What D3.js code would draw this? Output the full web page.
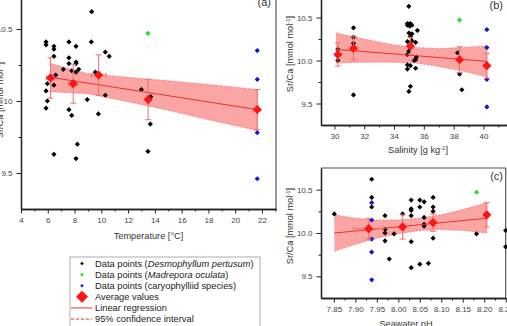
<!doctype html>
<html>
<head>
<meta charset="utf8">
<script src="https://d3js.org/d3.v7.min.js"></script>
<style>
  body { margin: 0; background: #fff; }
  svg { display: block; font-family: "Liberation Sans", Arial, sans-serif; }
</style>
</head>
<body>
<svg width="507" height="326"></svg>
<script>
// values
var srDomain = [9.25, 10.75];
var srTicks = [9.5, 10, 10.5];
var srMinor = [9.75, 10.25];

// (a) temperature
var tempTicks = [4, 6, 8, 10, 12, 14, 16, 18, 20, 22];
var tempPertusum = [[5.87,10.41],[5.87,10.39],[6.46,10.38],[6.46,10.36],[6.46,10.31],[7.58,10.41],
  [8.11,10.38],[7.58,10.30],[7.58,10.26],[8.11,10.27],[8.11,10.26],[7.16,10.22],[7.79,10.21],
  [8.11,10.20],[8.31,10.22],[6.59,10.18],[5.97,10.12],[6.46,10.11],[5.87,10.07],[5.97,10.00],
  [5.87,9.95],[7.58,9.94],[7.79,9.90],[8.95,10.01],[8.21,9.70],[6.46,9.63],[8.11,9.60],
  [9.28,10.62],[9.25,10.41],[9.55,10.20],[10.30,10.34],[10.59,10.31],[10.30,10.04],[9.78,9.91],
  [12.99,10.08],[13.69,10.03],[13.66,9.84],[13.48,9.65]];
var tempOculata = [[13.48,10.47]];
var tempCaryo = [[21.65,10.35],[21.65,10.15],[21.65,9.78],[21.65,9.46]];
var tempMeans = [[6.2,10.16],[7.9,10.12],[9.8,10.18],[13.5,10.01],[21.65,9.94]];
var tempErrY = [0.14, 0.135, 0.14, 0.14, 0.14];
var tempErrX = [0.3, 0.35, 0.55, 0.1, 0];
var tempFit = [[6.2,10.165],[21.65,9.94]];
var tempBandX = [6.2, 9, 12, 15, 18, 21.65];
var tempBandHi = [10.26, 10.19, 10.165, 10.14, 10.115, 10.08];
var tempBandLo = [10.065, 10.05, 9.995, 9.935, 9.87, 9.795];

// (b) salinity
var salTicks = [30, 32, 34, 36, 38, 40, 42];
var salPertusum = [[30.23,10.13],[30.23,10.00],[31.28,10.38],[31.28,10.27],[31.28,10.20],[31.28,9.60],
  [34.99,10.63],[34.9,10.43],[35.0,10.42],[35.1,10.43],[35.2,10.41],[35.05,10.40],[34.9,10.41],
  [35.57,10.35],[35.0,10.32],[35.2,10.31],[35.1,10.28],[34.9,10.22],[35.45,10.21],[35.2,10.23],
  [35.1,10.15],[35.0,10.11],[34.9,10.07],[35.5,10.04],[35.45,10.01],[35.35,10.00],[34.9,9.95],
  [35.1,9.94],[35.45,9.91],[34.9,9.90],[35.1,9.70],[35.0,9.64],[38.26,10.09],[38.4,9.84],[38.55,9.66]];
var salOculata = [[38.4,10.47]];
var salCaryo = [[40.23,10.36],[40.23,10.15],[40.23,9.78],[40.23,9.46]];
var salMeans = [[30.23,10.07],[31.28,10.14],[35.1,10.17],[38.4,10.01],[40.23,9.94]];
var salErrY = [0.135, 0.135, 0.1, 0.15, 0.145];
var salErrX = [0, 0, 0, 0, 0];
var salFit = [[30.1,10.13],[40.23,9.99]];
var salBandX = [30.1, 32, 34, 35.5, 37, 38.5, 40.23];
var salBandHi = [10.32, 10.25, 10.18, 10.15, 10.14, 10.15, 10.17];
var salBandLo = [9.97, 9.98, 9.98, 9.97, 9.93, 9.88, 9.81];

// (c) seawater pH
var phTicks = [7.85, 7.90, 7.95, 8.00, 8.05, 8.10, 8.15, 8.20, 8.25];
var phPertusum = [[7.851,10.22],[7.938,10.62],[7.938,10.41],[7.938,10.30],[7.969,10.20],[7.969,10.04],
  [7.969,10.00],[7.969,9.91],[7.99,9.99],[7.979,9.70],[8.01,10.22],[8.03,10.38],[8.03,10.28],
  [8.03,10.26],[8.03,10.20],[8.03,9.90],[8.03,9.60],[8.05,10.38],[8.05,10.30],[8.06,10.36],
  [8.06,10.18],[8.06,10.10],[8.06,10.08],[8.05,9.64],[8.07,9.65],[8.081,10.41],[8.081,10.30],
  [8.081,10.25],[8.081,9.94],[8.182,9.99],[8.25,10.03],[8.25,9.84]];
var phOculata = [[8.182,10.47]];
var phCaryo = [[7.938,10.35],[7.938,10.15],[7.938,9.93],[7.938,9.78],[7.938,9.46]];
var phMeans = [[7.931,10.05],[8.01,10.07],[8.081,10.12],[8.206,10.21]];
var phErrY = [0.12, 0.14, 0.1, 0.14];
var phErrX = [0.035, 0, 0, 0];
var phFit = [[7.851,10.0],[8.206,10.17]];
var phBandX = [7.851, 7.90, 7.95, 8.00, 8.05, 8.10, 8.15, 8.206];
var phBandHi = [10.21, 10.17, 10.15, 10.15, 10.17, 10.21, 10.27, 10.35];
var phBandLo = [9.79, 9.87, 9.94, 9.99, 10.03, 10.04, 10.03, 10.00];

var legendItems = ["pertusum", "oculata", "caryo", "mean", "fit", "ci"];

var svg = d3.select("svg");

function diamond(r) {
    return "M0," + (-r) + "L" + r + ",0L0," + r + "L" + (-r) + ",0Z";
}

function styleAxis(g) {
    g.select(".domain").attr("stroke", "#222").attr("stroke-width", 1.3);
    g.selectAll(".tick line").attr("stroke", "#222").attr("stroke-width", 1);
    g.selectAll(".tick text").attr("fill", "#444").attr("font-size", "8px")
     .attr("font-family", "'Liberation Sans', Arial, sans-serif");
}

function drawPanel(p) {
    var x = d3.scaleLinear().domain(p.xDomain).range(p.xRange),
        y = d3.scaleLinear().domain(srDomain).range(p.yRange);
    var g = svg.append("g");

    // frame
    if (p.frameRight) {
        g.append("line").attr("x1", p.xRange[1]).attr("x2", p.xRange[1])
         .attr("y1", p.yRange[1]).attr("y2", p.yRange[0])
         .attr("stroke", "#555").attr("stroke-width", 1.2);
    }
    g.append("line").attr("x1", p.xRange[0]).attr("x2", p.xRange[1])
     .attr("y1", p.yRange[1]).attr("y2", p.yRange[1])
     .attr("stroke", "#555").attr("stroke-width", 1.2);

    // confidence band
    var band = p.bandX.map(function(d, i) { return [d, p.bandLo[i], p.bandHi[i]]; });
    g.append("path").datum(band)
     .attr("fill", "#fba4a4")
     .attr("d", d3.area().x(function(d) { return x(d[0]); })
        .y0(function(d) { return y(d[1]); }).y1(function(d) { return y(d[2]); }));
    [1, 2].forEach(function(k) {
        g.append("path").datum(band)
         .attr("fill", "none").attr("stroke", "#f06a6a").attr("stroke-width", 0.7)
         .attr("stroke-dasharray", "2,1.5")
         .attr("d", d3.line().x(function(d) { return x(d[0]); }).y(function(d) { return y(d[k]); }));
    });
    g.append("line")
     .attr("x1", x(p.bandX[p.bandX.length - 1])).attr("x2", x(p.bandX[p.bandX.length - 1]))
     .attr("y1", y(p.bandLo[p.bandLo.length - 1])).attr("y2", y(p.bandHi[p.bandHi.length - 1]))
     .attr("stroke", "#f06a6a").attr("stroke-width", 0.7).attr("stroke-dasharray", "2,1.5");

    // data points
    [[p.pertusum, "#000"], [p.oculata, "#22e022"], [p.caryo, "#1515d0"]].forEach(function(s) {
        g.selectAll(null).data(s[0]).enter().append("path")
         .attr("d", diamond(2.6))
         .attr("transform", function(d) { return "translate(" + x(d[0]) + "," + y(d[1]) + ")"; })
         .attr("fill", s[1]);
    });

    // regression line
    g.append("line")
     .attr("x1", x(p.fit[0][0])).attr("y1", y(p.fit[0][1]))
     .attr("x2", x(p.fit[1][0])).attr("y2", y(p.fit[1][1]))
     .attr("stroke", "#e8322c").attr("stroke-width", 1);

    // error bars
    var eb = g.append("g").attr("stroke", "#f07070").attr("stroke-width", 1);
    p.means.forEach(function(d, i) {
        var cx = x(d[0]), cy = y(d[1]);
        var y1 = y(d[1] + p.errY[i]), y2 = y(d[1] - p.errY[i]);
        eb.append("line").attr("x1", cx).attr("x2", cx).attr("y1", y1).attr("y2", y2);
        eb.append("line").attr("x1", cx - 3).attr("x2", cx + 3).attr("y1", y1).attr("y2", y1);
        eb.append("line").attr("x1", cx - 3).attr("x2", cx + 3).attr("y1", y2).attr("y2", y2);
        if (p.errX[i] > 0) {
            var x1 = x(d[0] - p.errX[i]), x2 = x(d[0] + p.errX[i]);
            eb.append("line").attr("x1", x1).attr("x2", x2).attr("y1", cy).attr("y2", cy);
            eb.append("line").attr("x1", x1).attr("x2", x1).attr("y1", cy - 2.5).attr("y2", cy + 2.5);
            eb.append("line").attr("x1", x2).attr("x2", x2).attr("y1", cy - 2.5).attr("y2", cy + 2.5);
        }
    });

    // averages
    g.selectAll(null).data(p.means).enter().append("path")
     .attr("d", diamond(4.6))
     .attr("transform", function(d) { return "translate(" + x(d[0]) + "," + y(d[1]) + ")"; })
     .attr("fill", "#ff1414");

    // axes
    var xMinor = [];
    for (var i = 0; i < p.xTicks.length; i++) {
        xMinor.push(p.xTicks[i] + p.xStep / 2);
    }
    g.append("g").attr("transform", "translate(0," + p.yRange[0] + ")")
     .call(d3.axisBottom(x).tickValues(xMinor).tickSize(2.5).tickSizeOuter(0).tickFormat(""))
     .call(styleAxis);
    g.append("g").attr("transform", "translate(0," + p.yRange[0] + ")")
     .call(d3.axisBottom(x).tickValues(p.xTicks).tickSize(4.5).tickSizeOuter(0)
        .tickPadding(4).tickFormat(p.xFmt))
     .call(styleAxis);
    g.append("g").attr("transform", "translate(" + p.xRange[0] + ",0)")
     .call(d3.axisLeft(y).tickValues(srMinor).tickSize(2.5).tickSizeOuter(0).tickFormat(""))
     .call(styleAxis);
    g.append("g").attr("transform", "translate(" + p.xRange[0] + ",0)")
     .call(d3.axisLeft(y).tickValues(srTicks).tickSize(4.5).tickSizeOuter(0)
        .tickPadding(4).tickFormat(p.yFmt))
     .call(styleAxis);

    // titles
    var xt = g.append("text").attr("x", (p.xRange[0] + p.xTitleEnd) / 2).attr("y", p.xTitleY)
     .attr("text-anchor", "middle").attr("font-size", "9.2px").attr("fill", "#333");
    xt.append("tspan").text(p.xTitle[0]);
    if (p.xTitle.length > 1) {
        xt.append("tspan").attr("font-size", "6px").attr("dy", -3.5).text(p.xTitle[1]);
        xt.append("tspan").attr("dy", 3.5).text(p.xTitle[2]);
    }
    var yt = g.append("text")
     .attr("transform", "translate(" + p.yTitleX + "," + p.yTitleY + ") rotate(-90)")
     .attr("text-anchor", "middle").attr("font-size", "9.2px").attr("fill", "#333");
    yt.append("tspan").text("Sr/Ca [mmol mol");
    yt.append("tspan").attr("font-size", "6px").attr("dy", -3.5).text("-1");
    yt.append("tspan").attr("dy", 3.5).text("]");

    g.append("text").attr("x", p.labelX).attr("y", p.labelY)
     .attr("text-anchor", "end").attr("font-size", "11px").attr("fill", "#333")
     .text(p.label);
}

drawPanel({
    xDomain: [4, 23.05], xRange: [21, 276], yRange: [209, -7],
    xTicks: tempTicks, xStep: 2, xFmt: d3.format("d"), yFmt: function(d) { return String(d); },
    pertusum: tempPertusum, oculata: tempOculata, caryo: tempCaryo,
    means: tempMeans, errX: tempErrX, errY: tempErrY, fit: tempFit,
    bandX: tempBandX, bandHi: tempBandHi, bandLo: tempBandLo,
    frameRight: true, xTitle: ["Temperature [°C]"], xTitleEnd: 276, xTitleY: 239,
    yTitleX: 3, yTitleY: 100, label: "(a)", labelX: 271, labelY: 6
});

drawPanel({
    xDomain: [29.1, 42.4], xRange: [321, 519.2], yRange: [125, -4],
    xTicks: salTicks, xStep: 2, xFmt: d3.format("d"), yFmt: d3.format(".1f"),
    pertusum: salPertusum, oculata: salOculata, caryo: salCaryo,
    means: salMeans, errX: salErrX, errY: salErrY, fit: salFit,
    bandX: salBandX, bandHi: salBandHi, bandLo: salBandLo,
    frameRight: true, xTitle: ["Salinity [g kg", "-1", "]"], xTitleEnd: 515, xTitleY: 153,
    yTitleX: 293, yTitleY: 54, label: "(b)", labelX: 503, labelY: 9
});

drawPanel({
    xDomain: [7.82, 8.25], xRange: [321, 505.7], yRange: [298, 168],
    xTicks: phTicks, xStep: 0.05, xFmt: d3.format(".2f"), yFmt: d3.format(".1f"),
    pertusum: phPertusum, oculata: phOculata, caryo: phCaryo,
    means: phMeans, errX: phErrX, errY: phErrY, fit: phFit,
    bandX: phBandX, bandHi: phBandHi, bandLo: phBandLo,
    frameRight: true, xTitle: ["Seawater pH"], xTitleEnd: 491, xTitleY: 327,
    yTitleX: 293, yTitleY: 226, label: "(c)", labelX: 503, labelY: 180
});

// legend
var lg = svg.append("g").attr("transform", "translate(70,257)");
lg.append("rect").attr("width", 190).attr("height", 80)
  .attr("fill", "#fff").attr("stroke", "#999").attr("stroke-width", 0.8);
var rowY = d3.scaleBand().domain(legendItems).range([1, 67.6]);
legendItems.forEach(function(k) {
    var cy = rowY(k) + rowY.bandwidth() / 2;
    var row = lg.append("g").attr("transform", "translate(0," + cy + ")");
    if (k === "pertusum" || k === "oculata" || k === "caryo") {
        row.append("path").attr("d", diamond(1.8)).attr("transform", "translate(12,0)")
           .attr("fill", { pertusum: "#000", oculata: "#22e022", caryo: "#1515d0" }[k]);
    } else if (k === "mean") {
        row.append("path").attr("d", diamond(6)).attr("transform", "translate(12,0)").attr("fill", "#ff1414");
    } else {
        row.append("line").attr("x1", 1).attr("x2", 22).attr("y1", 0).attr("y2", 0)
           .attr("stroke", "#e8322c").attr("stroke-width", 1)
           .attr("stroke-dasharray", k === "ci" ? "3,2" : null);
    }
    var t = row.append("text").attr("x", 25).attr("y", 3.3).attr("font-size", "9.3px").attr("fill", "#222");
    if (k === "pertusum") {
        t.append("tspan").text("Data points (");
        t.append("tspan").attr("font-style", "italic").text("Desmophyllum pertusum");
        t.append("tspan").text(")");
    } else if (k === "oculata") {
        t.append("tspan").text("Data points (");
        t.append("tspan").attr("font-style", "italic").text("Madrepora oculata");
        t.append("tspan").text(")");
    } else if (k === "caryo") {
        t.text("Data points (caryophylliid species)");
    } else if (k === "mean") {
        t.text("Average values");
    } else if (k === "fit") {
        t.text("Linear regression");
    } else {
        t.text("95% confidence interval");
    }
});
</script>
</body>
</html>
